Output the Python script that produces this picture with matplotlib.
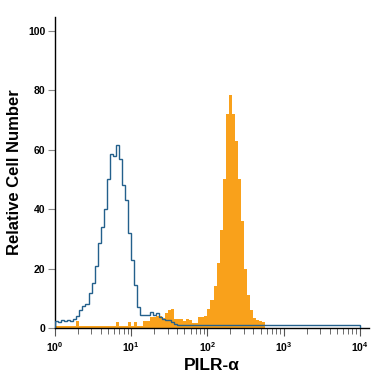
import numpy as np
import matplotlib
matplotlib.use('Agg')
import matplotlib.pyplot as plt
from matplotlib.ticker import LogLocator, NullFormatter

plt.rcParams['font.family'] = ['Liberation Sans', 'DejaVu Sans']

# log bins, 0.04 decade wide, 10^0 .. 10^4
n_bins = 100
edges = np.logspace(0, 4, n_bins + 1)

# isotype control (outline)
isotype = [
    2.5, 2.0, 2.8, 2.2, 2.6, 2.4, 3.0, 4.1, 6.0, 7.5,
    8.2, 11.8, 15.0, 21.0, 28.5, 34.0, 40.0, 50.0, 58.5, 58.0,
    61.5, 57.0, 48.0, 43.0, 32.0, 23.0, 14.5, 7.0, 4.5, 4.4,
    4.3, 5.5, 4.5, 5.2, 3.8, 3.0, 2.8, 2.6, 1.9, 1.5,
    0.9, 0.9, 0.9, 0.9, 0.9, 0.9, 0.9, 0.9, 0.9, 0.9,
    0.9, 0.9, 0.9, 0.9, 0.9, 0.9, 0.9, 0.9, 0.9, 0.9,
    0.9, 0.9, 0.9, 0.9, 0.9, 0.9, 0.9, 0.9, 0.9, 0.9,
    0.9, 0.9, 0.9, 0.9, 0.9, 0.9, 0.9, 0.9, 0.9, 0.9,
    0.9, 0.9, 0.9, 0.9, 0.9, 0.9, 0.9, 0.9, 0.9, 0.9,
    0.9, 0.9, 0.9, 0.9, 0.9, 0.9, 0.9, 0.9, 0.9, 0.9,
]

# PILR-alpha stained cells (filled)
stained = [
    0.8, 0.8, 0.8, 0.8, 0.8, 0.8, 0.8, 2.5, 0.8, 0.8,
    0.8, 0.8, 0.8, 0.8, 0.8, 0.8, 0.8, 0.8, 0.8, 0.8,
    2.0, 0.8, 0.8, 0.8, 2.0, 0.8, 2.0, 0.8, 0.8, 2.2,
    2.4, 3.6, 3.8, 4.0, 4.0, 3.5, 5.0, 6.0, 6.5, 3.0,
    3.0, 3.2, 2.5, 3.0, 2.8, 1.7, 1.8, 3.8, 3.8, 4.0,
    6.5, 9.5, 14.0, 22.0, 33.0, 50.0, 72.0, 78.5, 72.0, 63.0,
    50.0, 36.0, 20.0, 11.0, 6.0, 3.5, 2.8, 2.5, 2.0, 0.0,
    0.0, 0.0, 0.0, 0.0, 0.0, 0.0, 0.0, 0.0, 0.0, 0.0,
    0.0, 0.0, 0.0, 0.0, 0.0, 0.0, 0.0, 0.0, 0.0, 0.0,
    0.0, 0.0, 0.0, 0.0, 0.0, 0.0, 0.0, 0.0, 0.0, 0.0,
]

y_ticks = [0, 20, 40, 60, 80, 100]

fig = plt.figure(figsize=(3.75, 3.75), dpi=100)
ax = fig.add_axes([0.1467, 0.1253, 0.8373, 0.8294])

ax.stairs(stained, edges, fill=True, color='#f9a11b', linewidth=0, zorder=2)
ax.stairs(isotype, edges, color='#23608c', linewidth=1.0, zorder=3)

ax.set_xscale('log')
ax.set_xlim(1, 10 ** 4.12)
ax.set_ylim(0, 104.7)

ax.spines['top'].set_visible(False)
ax.spines['right'].set_visible(False)
ax.spines['left'].set_linewidth(1.0)
ax.spines['bottom'].set_linewidth(1.0)

ax.set_yticks(y_ticks)
ax.tick_params(axis='y', length=5, width=0.8, color='#888888', labelsize=7.5, pad=2)
ax.xaxis.set_major_locator(LogLocator(base=10, numticks=10))
ax.xaxis.set_minor_locator(LogLocator(base=10, subs=np.arange(2, 10), numticks=10))
ax.xaxis.set_minor_formatter(NullFormatter())
ax.tick_params(axis='x', which='major', length=6, width=0.8, color='#555555', labelsize=7.5, pad=3)
ax.tick_params(axis='x', which='minor', length=4, width=0.6, color='#555555')

for lab in ax.get_yticklabels() + ax.get_xticklabels():
    lab.set_fontweight('bold')

ax.set_ylabel('Relative Cell Number', fontsize=12, fontweight='bold', labelpad=4)
ax.set_xlabel('PILR-\u03b1', fontsize=12.5, fontweight='bold', labelpad=3)

fig.savefig('out.png', dpi=100)
